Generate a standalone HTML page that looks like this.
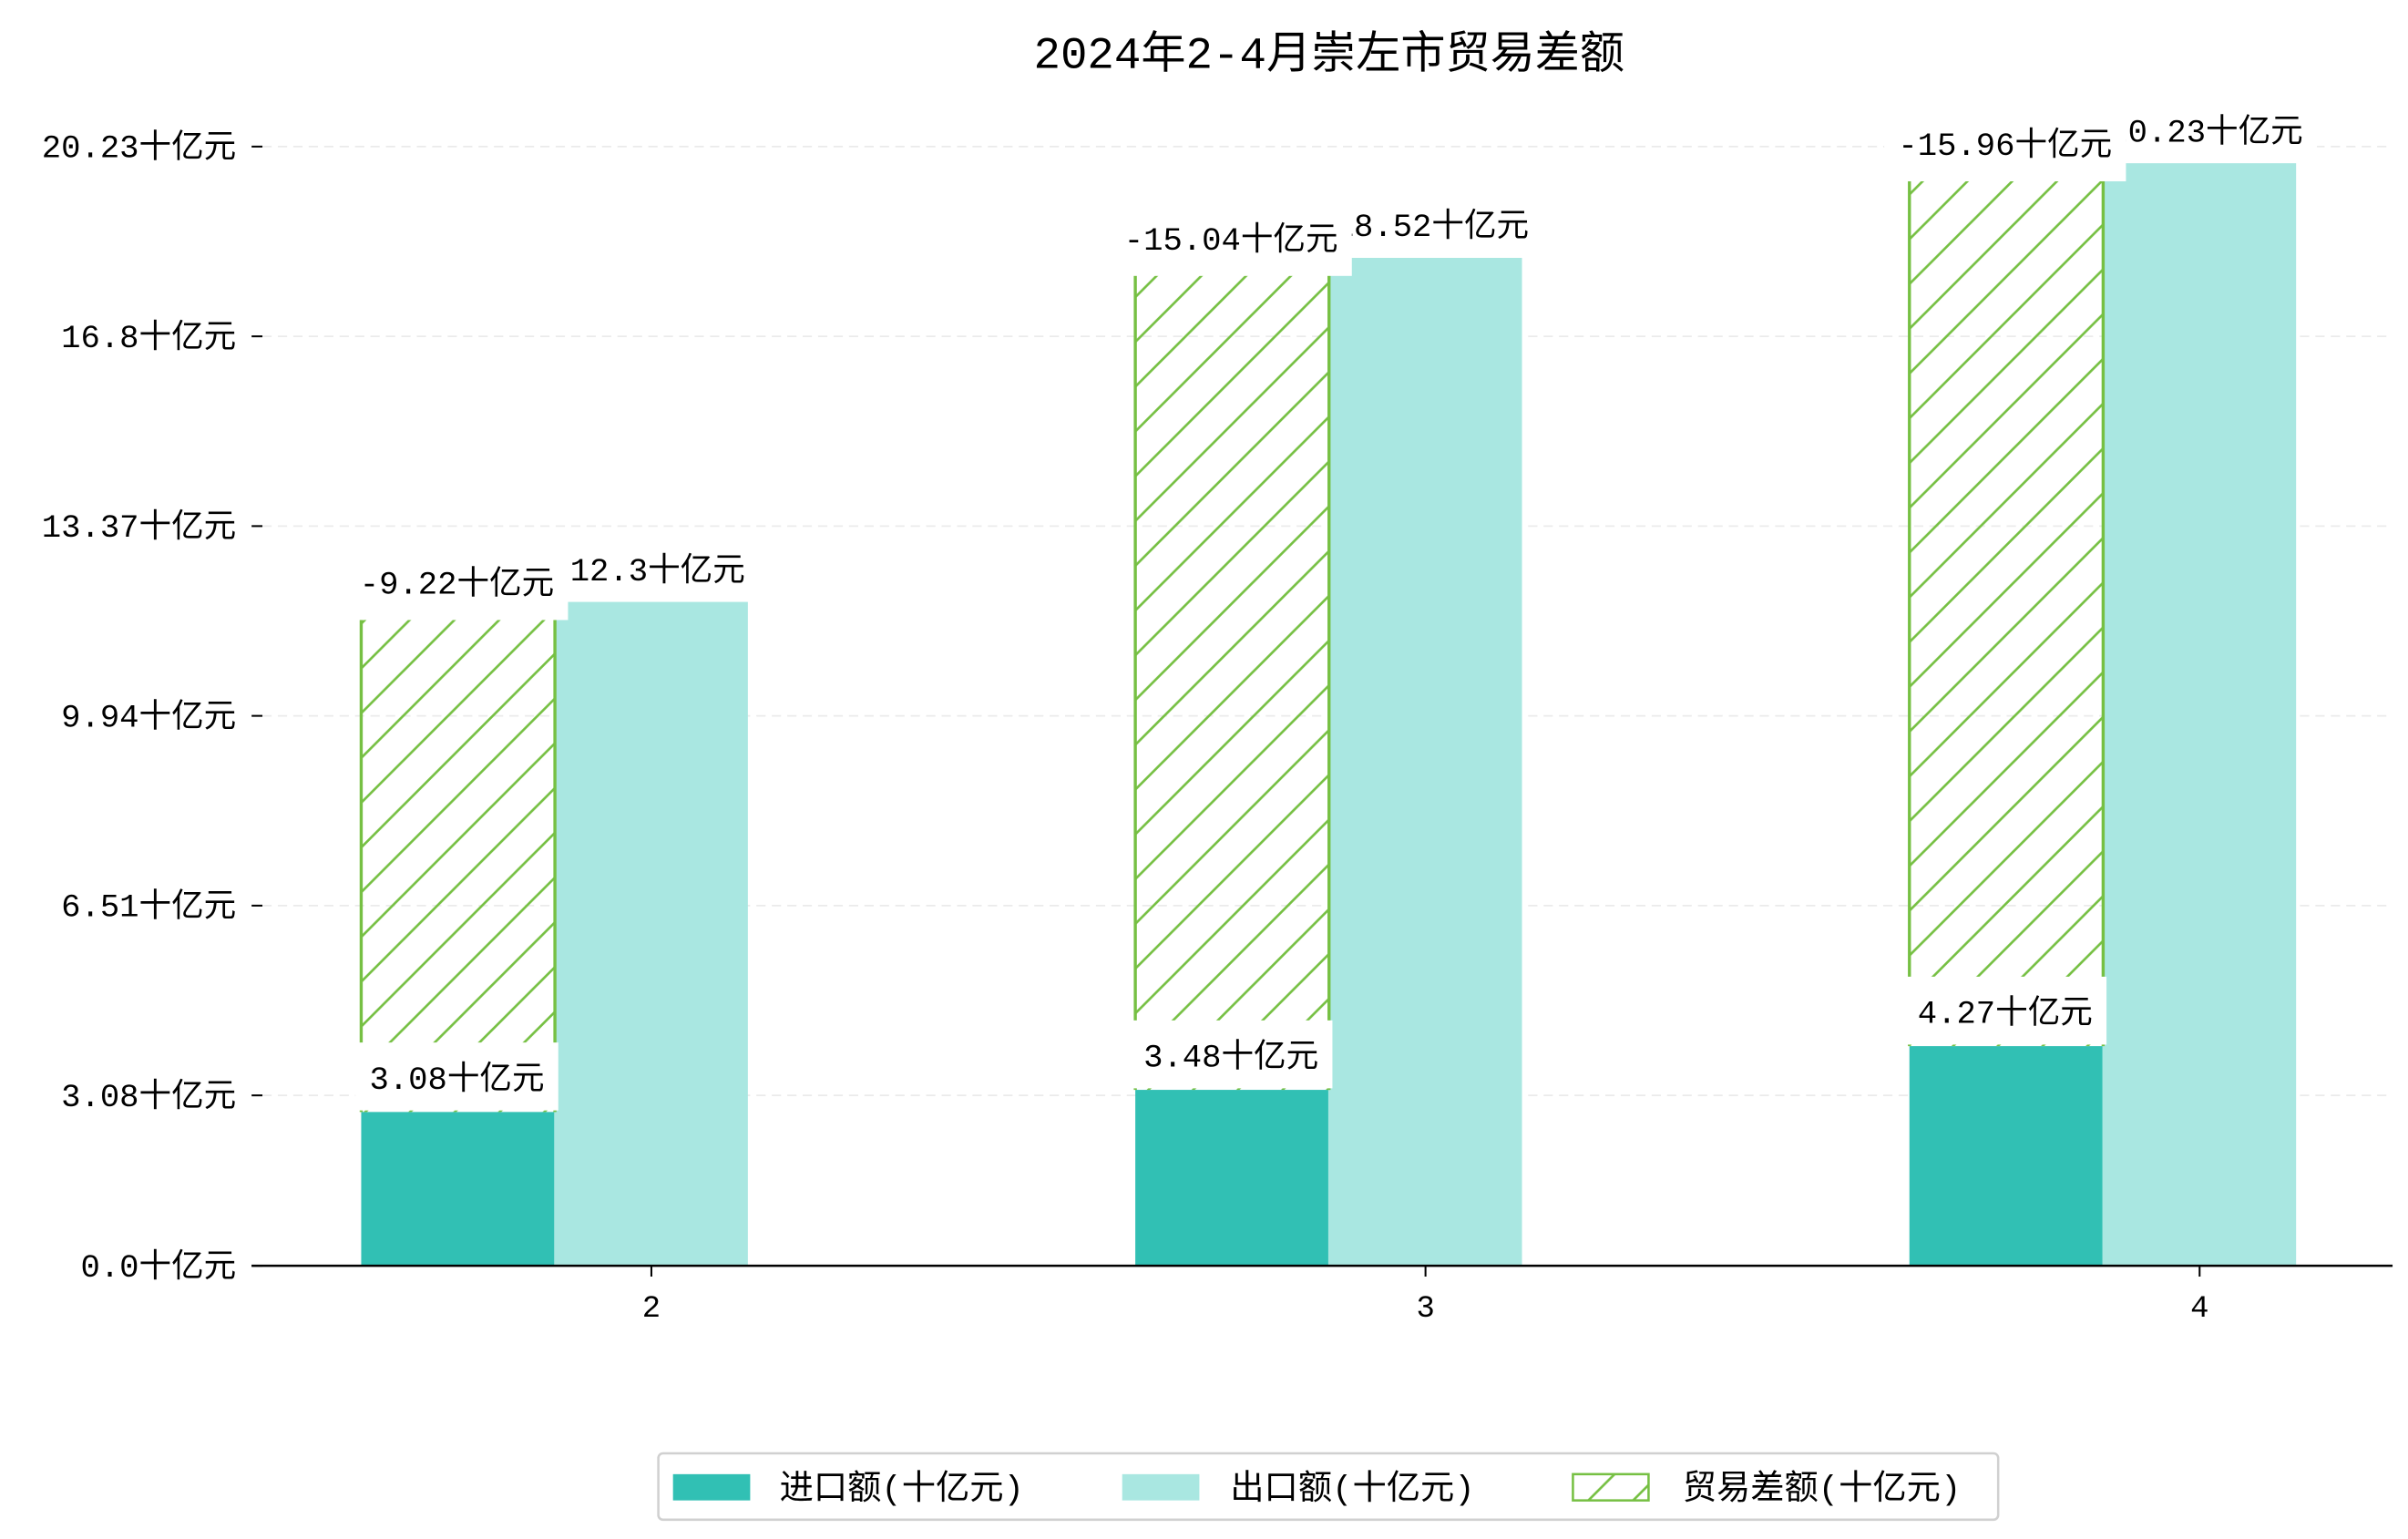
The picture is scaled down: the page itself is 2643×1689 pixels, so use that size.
<!DOCTYPE html>
<html><head><meta charset="utf-8"><style>
html,body{margin:0;padding:0;background:#fff;}
svg{display:block;font-family:"Liberation Mono","Noto Sans CJK SC",monospace;}
</style></head><body>
<svg id="chart" width="2643" height="1689" viewBox="0 0 1560 997" preserveAspectRatio="none" xmlns="http://www.w3.org/2000/svg">
<defs>
<pattern id="hatch" patternUnits="userSpaceOnUse" width="29" height="29">
<path d="M-2,31 L31,-2 M-31,31 L31,-31 M-2,60 L60,-2" stroke="#76c043" stroke-width="1.6"/>
</pattern>
</defs>
<text x="861" y="44" text-anchor="middle" font-size="29" fill="#000">2024年2-4月崇左市贸易差额</text>
<g id="grid"></g><g id="bars"></g><g id="axes"></g><g id="labels"></g>
<g>
<rect x="426.5" y="941.5" width="868" height="43" rx="3" fill="#fff" stroke="#d0d0d0" stroke-width="1.5"/>
<rect x="436" y="955" width="50" height="17" fill="#31c0b4"/>
<text x="505" y="971" font-size="22">进口额(十亿元)</text>
<rect x="727" y="955" width="50" height="17" fill="#a9e7e1"/>
<text x="797" y="971" font-size="22">出口额(十亿元)</text>
<rect x="1019" y="955" width="49" height="17" fill="url(#hatch)" stroke="#76c043" stroke-width="1.5"/>
<text x="1090" y="971" font-size="22">贸易差额(十亿元)</text>
</g>
</svg>
<script>
const months = ["2","3","4"];
const imports = [3.08, 3.48, 4.27];
const exports_ = [12.3, 18.52, 20.23];
const balance = [-9.22, -15.04, -15.96];
const tickValues = [0.0, 3.08, 6.51, 9.94, 13.37, 16.8, 20.23];
const tickLabels = ["0.0十亿元","3.08十亿元","6.51十亿元","9.94十亿元","13.37十亿元","16.8十亿元","20.23十亿元"];

const NS = "http://www.w3.org/2000/svg";
const base = 820, k = 35.84, off = 0.3;
function yTick(v){ return base - v*k; }
function yBar(v){ return base - Math.max(0, v-off)*k; }
function xCat(i){ return 422 + i*501.5; }
const bw = 125.5;
function mk(tag, attrs, parent){ const e=document.createElementNS(NS,tag); for(const a in attrs) e.setAttribute(a, attrs[a]); parent.appendChild(e); return e; }
const grid=document.getElementById('grid'), bars=document.getElementById('bars'), axes=document.getElementById('axes'), labels=document.getElementById('labels');

tickValues.forEach((v,i)=>{
  const y=yTick(v);
  if(i>0){ const g=mk('line',{x1:170,x2:1550,y1:y,y2:y,stroke:'#ebebeb','stroke-width':1,'stroke-dasharray':'6,4'},grid);
      }
  const t=mk('line',{x1:163,x2:170,y1:y,y2:y,stroke:'#000','stroke-width':1.2},axes);
   
  const l=mk('text',{x:153,y:y+7,'text-anchor':'end','font-size':21},axes);
  l.textContent=tickLabels[i];
   
});
const sp=mk('line',{x1:163,x2:1550,y1:base,y2:base,stroke:'#000','stroke-width':1.5},axes);
 

function boxedLabel(txt, cx, by, name, h){
  const r=mk('rect',{fill:'#fff'},labels);
  
  
  const t=mk('text',{x:cx,y:by,'text-anchor':'middle','font-size':21},labels);
  t.textContent=txt;
  
  
  const b=t.getBBox();
  r.setAttribute('x', b.x-9); r.setAttribute('width', b.width+18);
  r.setAttribute('y', by-30); r.setAttribute('height', h);
}

months.forEach((m,i)=>{
  const cx=xCat(i), xl=cx-188, xr=cx-63;
  const yi=yBar(imports[i]), ye=yBar(exports_[i]), yh=yBar(imports[i]+Math.abs(balance[i])-off);
  const bi=mk('rect',{x:xl,y:yi,width:bw,height:base-yi,fill:'#31c0b4'},bars);
   
  const be=mk('rect',{x:xr,y:ye,width:bw,height:base-ye,fill:'#a9e7e1'},bars);
   
  const bh=mk('rect',{x:xl,y:yh,width:bw,height:yi-yh,fill:'url(#hatch)'},bars);
   
  const el=mk('line',{x1:xl,x2:xl,y1:yh,y2:yi,stroke:'#76c043','stroke-width':2},bars);
   
  const er=mk('line',{x1:xl+bw,x2:xl+bw,y1:yh,y2:yi,stroke:'#76c043','stroke-width':2},bars);
   
  const xt=mk('line',{x1:cx,x2:cx,y1:base,y2:base+7,stroke:'#000','stroke-width':1.2},axes);
   
  const xl2=mk('text',{x:cx,y:base+33,'text-anchor':'middle','font-size':20},axes);
  xl2.textContent=m;
   

  boxedLabel(exports_[i]+'十亿元', cx+4, ye-14, 'export-value-label', 44);
  boxedLabel(balance[i].toFixed(2)+'十亿元', cx-126, yh-16, 'balance-value-label', 47);
  boxedLabel(imports[i].toFixed(2)+'十亿元', cx-126, yi-15, 'import-value-label', 44);
});
</script>
</body></html>
